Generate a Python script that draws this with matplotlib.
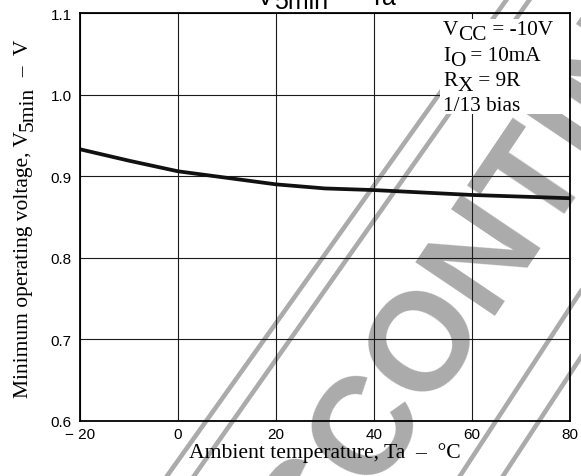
import matplotlib
matplotlib.use('Agg')
import matplotlib.pyplot as plt
from matplotlib.lines import Line2D
from matplotlib.patches import Rectangle

# 数据 (V5min - Ta)
temp = [-20, -10, 0, 10, 20, 30, 40, 50, 60, 70, 80]
v5min = [0.933, 0.919, 0.906, 0.898, 0.890, 0.885, 0.883, 0.880, 0.877, 0.875, 0.873]
x_ticks = [-20, 0, 20, 40, 60, 80]
x_tick_labels = ['\u2212 20', '0', '20', '40', '60', '80']
y_ticks = [0.6, 0.7, 0.8, 0.9, 1.0, 1.1]
y_tick_labels = ['0.6', '0.7', '0.8', '0.9', '1.0', '1.1']

W, H = 581, 477
SANS = 'Liberation Sans'
SERIF = 'Liberation Serif'


def chain_text(ax, x, y, parts, transform, rotation=0, **kw):
    # 逐段拼接文字, 每段可以下移 (模拟下标)
    first, dy0 = parts[0]
    t = ax.text(x, y, first, transform=transform, rotation=rotation,
                ha='left' if rotation == 0 else 'right',
                va='baseline' if rotation == 0 else 'bottom', **kw)
    prev, prev_dy = t, dy0
    for s, dy in parts[1:]:
        if rotation == 0:
            prev = ax.annotate(s, xy=(1, 0), xycoords=prev,
                               xytext=(0, -(dy - prev_dy)), textcoords='offset points',
                               ha='left', va='bottom', annotation_clip=False, **kw)
        else:
            prev = ax.annotate(s, xy=(1, 1), xycoords=prev,
                               xytext=(dy - prev_dy, 0), textcoords='offset points',
                               rotation=rotation, ha='right', va='bottom',
                               annotation_clip=False, **kw)
        prev_dy = dy
    return t


fig = plt.figure(figsize=(W / 100, H / 100), dpi=100)
fig.patch.set_facecolor('white')
ax = fig.add_axes([80 / W, 55 / H, 490 / W, 408 / H])
ax.set_facecolor('none')

# 水印 (DISCONTINUED)
wm = '#ababab'
fig.text(0.415, -0.425, 'DISCONTINUED', family=SANS, weight='bold', fontsize=100,
         color=wm, rotation=56, rotation_mode='anchor', ha='left', va='baseline', zorder=-1)
for (x0, y0), (x1, y1) in [((167, 477), (507, 0)), ((194, 477), (530, 0)),
                           ((460, 477), (581, 292)), ((503, 477), (581, 358))]:
    fig.add_artist(Line2D([x0 / W, x1 / W], [1 - y0 / H, 1 - y1 / H], transform=fig.transFigure,
                          color=wm, lw=3.3, solid_capstyle='projecting', zorder=-1))

# 曲线
ax.plot(temp, v5min, color='#111111', lw=2.7, zorder=3)

ax.set_xlim(-20, 80)
ax.set_ylim(0.6, 1.1)
ax.set_xticks(x_ticks)
ax.set_xticklabels(x_tick_labels, family=SANS, fontsize=11)
ax.set_yticks(y_ticks)
ax.set_yticklabels(y_tick_labels, family=SANS, fontsize=11)
ax.tick_params(axis='x', length=0, pad=4.5)
ax.tick_params(axis='y', length=0, pad=6)
ax.grid(True, color='#1a1a1a', lw=0.8)
for sp in ax.spines.values():
    sp.set_linewidth(1.3)
    sp.set_color('black')
    sp.set_zorder(4)

ax.set_xlabel('Ambient temperature, Ta  \u2013  \u00b0C', family=SERIF, fontsize=15.6)
ax.xaxis.set_label_coords(0.5, -0.052)

# y 轴标题
chain_text(ax, 0.056, 1 - 398 / H,
           [('Minimum operating voltage, V', 0), ('5min', 3.5), ('  \u2013  V', 0)],
           fig.transFigure, rotation=90, family=SERIF, fontsize=15.5, color='black')

# 图标题 (上方被截掉)
chain_text(ax, 257 / W, 1 - 5 / H, [('V', 0), ('5min', 3), ('  \u2013  Ta', 0)],
           fig.transFigure, family=SANS, fontsize=18, color='black')

# 条件说明框
ax.add_patch(Rectangle((0.735, 0.752), 0.262, 0.233, transform=ax.transAxes,
                       facecolor='white', edgecolor='none', zorder=3.5))
cond = [
    [('V', 0), ('CC', 3.6), (' = -10V', 0)],
    [('I', 0), ('O', 3.6), (' = 10mA', 0)],
    [('R', 0), ('X', 3.6), (' = 9R', 0)],
    [('1/13 bias', 0)],
]
for i, parts in enumerate(cond):
    yb = [35, 61, 86, 111][i]
    chain_text(ax, 0.741, (422 - yb) / 408, parts, ax.transAxes,
               family=SERIF, fontsize=15.3, color='black', zorder=5)

fig.savefig('out.png', dpi=100, facecolor='white')
